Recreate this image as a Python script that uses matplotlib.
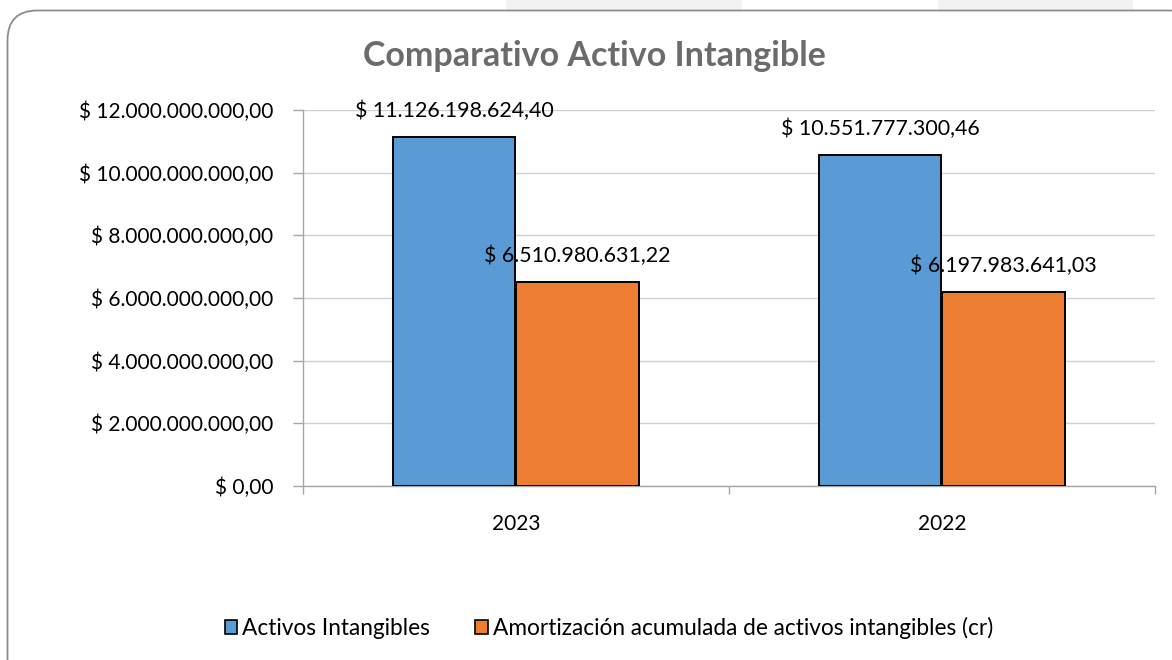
import matplotlib
matplotlib.use("Agg")
import matplotlib.pyplot as plt
from matplotlib.patches import FancyBboxPatch, Rectangle
from matplotlib.transforms import IdentityTransform
import numpy as np

plt.rcParams['font.family'] = ['Lato', 'DejaVu Sans']

title = "Comparativo Activo Intangible"
categories = ["2023", "2022"]
series_names = ["Activos Intangibles", "Amortización acumulada de activos intangibles (cr)"]
activos = [11126198624.40, 10551777300.46]
amortizacion = [6510980631.22, 6197983641.03]
y_ticks = [0, 2e9, 4e9, 6e9, 8e9, 10e9, 12e9]
colors = ["#5B9BD5", "#ED7D31"]


def fmt(v):
    s = f"{v:,.2f}"
    s = s.replace(",", "X").replace(".", ",").replace("X", ".")
    return "$ " + s


W, H = 1172, 660
fig = plt.figure(figsize=(W / 100, H / 100), dpi=100)
fig.patch.set_facecolor("white")

# light background blocks at top
for x0, x1 in [(506, 742), (938, 1133)]:
    fig.patches.append(Rectangle((x0, H - 10), x1 - x0, 12, transform=IdentityTransform(),
                                 facecolor="#f2f2f2", edgecolor="none", zorder=0))
# rounded border
r = 30
left, right, top, bottom = 7.5, 1200, H - 10.5, -40
border = FancyBboxPatch((left + r, bottom + r), right - left - 2 * r, top - bottom - 2 * r,
                        boxstyle=f"round,pad={r}", transform=IdentityTransform(),
                        facecolor="white", edgecolor="#8c8c8c", linewidth=1.3, zorder=1)
fig.patches.append(border)

ax = fig.add_axes([302.7 / W, 1 - 486 / H, (1155 - 302.7) / W, (486 - 110) / H])
ax.set_facecolor("none")
ax.set_zorder(2)

fs = 15
x = np.arange(len(categories))
bw = 0.287
off = 0.1446
b1 = ax.bar(x - off, activos, bw, color=colors[0], edgecolor="black", linewidth=1.4,
            label=series_names[0], zorder=3)
b2 = ax.bar(x + off, amortizacion, bw, color=colors[1], edgecolor="black", linewidth=1.4,
            label=series_names[1], zorder=3)

for bars, vals in [(b1, activos), (b2, amortizacion)]:
    for rect, v in zip(bars, vals):
        ax.annotate(fmt(v), (rect.get_x() + rect.get_width() / 2, v), xytext=(0, 26),
                    textcoords="offset pixels", ha="center", va="center",
                    fontsize=fs + 0.4, color="#000000", zorder=4)

ax.set_xlim(-0.5, 1.5)
ax.set_ylim(0, 12e9)
ax.set_yticks(y_ticks)
ax.set_yticklabels([fmt(v) for v in y_ticks])
ax.set_xticks(x)
ax.set_xticklabels(categories)
ax.set_xticks([-0.5, 0.5, 1.5], minor=True)
ax.tick_params(axis="x", which="major", length=0, pad=20, labelsize=fs)
ax.tick_params(axis="x", which="minor", length=6, color="#a6a6a6", width=1, direction="out")
ax.tick_params(axis="y", length=7, color="#a6a6a6", width=1, pad=14, labelsize=fs)

ax.grid(axis="y", color="#d0d0d0", linewidth=1, zorder=0)
ax.set_axisbelow(True)
for s in ["top", "right"]:
    ax.spines[s].set_visible(False)
for s in ["left", "bottom"]:
    ax.spines[s].set_color("#a6a6a6")
    ax.spines[s].set_linewidth(1)

fig.text(594 / W, 1 - 56 / H, title, ha="center", va="center", fontsize=24.5,
         fontweight="bold", color="#6b6b6b")

leg = fig.legend(handles=[b1, b2], labels=series_names, loc="center",
                 bbox_to_anchor=(609 / W, 1 - 628 / H), ncol=2, frameon=False,
                 fontsize=16.3, handlelength=0.55, handleheight=0.55, handletextpad=0.22,
                 columnspacing=2.0)
for p in leg.get_patches():
    p.set_linewidth(1.2)

fig.savefig("out.png", dpi=100, facecolor="white")
